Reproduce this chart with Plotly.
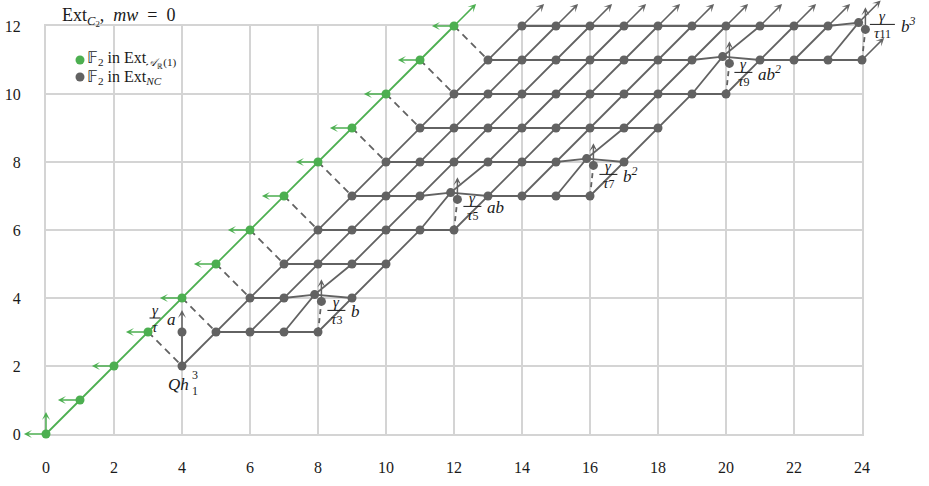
import plotly.graph_objects as go

# ---- data -------------------------------------------------------------
# F2 in Ext_{A_R(1)}: one class in each bidegree (s, s)
green_stems = list(range(0, 13))
green_filts = list(range(0, 13))

# Ext_NC lattice, row by row: filtration, first stem, last stem
nc_row_filts = [3, 4, 5, 6, 7, 8, 9, 10, 11, 12]
nc_row_first = [5, 6, 7, 8, 9, 10, 11, 12, 13, 14]
nc_row_last = [8, 9, 10, 12, 16, 17, 18, 20, 24, 24]

# Qh_1^3
qh_stem, qh_filt = 4, 2

# gamma / tau^k classes and the classes they sit above
gamma_stems = [4, 8, 12, 16, 20, 24]
gamma_filts = [3, 4, 7, 8, 11, 12]
gamma_base_filts = [2, 3, 6, 7, 10, 11]
gamma_tau_pow = ["", "3", "5", "7", "9", "11"]
gamma_suffix = ["a", "b", "ab", "b<sup>2</sup>", "ab<sup>2</sup>", "b<sup>3</sup>"]

# dashed links from green (n, n) to grey (n+1, n-1)
link_stems = list(range(3, 13))

x_ticks = list(range(0, 25, 2))
y_ticks = list(range(0, 13, 2))

# ---- style ------------------------------------------------------------
W, H = 929, 486
PX = 34.0                       # pixels per unit on both axes
X0_PX, Y0_PX = 46, 434          # pixel position of the origin
GREEN = "#4caf50"
GREY = "#626262"
GRID = "#d4d4d4"
TEXT = "#1a1a1a"
FONT = "Liberation Serif"
ARROW = 0.65                    # arrow length in axis units
SHIFT = 0.1                     # offset for two classes in one bidegree
MS = 9
NBSP = "\u00a0"

# label placement (pixels: fraction-bar centre relative to its class, +down)
frac_offsets = [(-27, -14), (15, 9), (15, 7), (15, 9), (14, 9), (17, -5)]

fig = go.Figure()

gamma_set = set(zip(gamma_stems, gamma_filts))


def lattice_pos(s, f):
    if (s, f) in gamma_set:
        return s - SHIFT, f + SHIFT
    return float(s), float(f)


# lattice points
points = [(qh_stem, qh_filt)]
for r, a, b in zip(nc_row_filts, nc_row_first, nc_row_last):
    points += [(s, r) for s in range(a, b + 1)]
point_set = set(points)


def gamma_pos(s, f):
    if (s, f) in point_set:
        return s + SHIFT, f - SHIFT
    return float(s), float(f)


arrows = []  # (x0, y0, x1, y1, colour)

# horizontal rows
hx, hy = [], []
for r, a, b in zip(nc_row_filts, nc_row_first, nc_row_last):
    for s in range(a, b + 1):
        x, y = lattice_pos(s, r)
        hx.append(x)
        hy.append(y)
    hx.append(None)
    hy.append(None)

# diagonals (h1 multiplication)
dx_, dy_ = [], []
diags = {}
for s, f in points:
    diags.setdefault(s - f, []).append((s, f))
for c in sorted(diags):
    pts = sorted(diags[c], key=lambda p: p[1])
    for s, f in pts:
        x, y = lattice_pos(s, f)
        dx_.append(x)
        dy_.append(y)
    dx_.append(None)
    dy_.append(None)
    s, f = pts[-1]
    x, y = lattice_pos(s, f)
    arrows.append((x, y, x + ARROW, y + ARROW, GREY))

# dashed links
lx, ly = [], []
for n in link_stems:
    x1, y1 = lattice_pos(n + 1, n - 1)
    lx += [n, x1, None]
    ly += [n, y1, None]

# gamma classes: solid/dashed stem from the base class, arrow upward
gsx, gsy = [], []
gdx, gdy = [], []
gpx, gpy = [], []
for s, f, fb in zip(gamma_stems, gamma_filts, gamma_base_filts):
    gx, gy = gamma_pos(s, f)
    bx, by = lattice_pos(s, fb)
    gpx.append(gx)
    gpy.append(gy)
    if (s, f) in point_set:
        gdx += [bx, gx, None]
        gdy += [by, gy, None]
    else:
        gsx += [bx, gx, None]
        gsy += [by, gy, None]
    arrows.append((gx, gy, gx, gy + ARROW, GREY))

# green arrows
for s, f in zip(green_stems, green_filts):
    arrows.append((s, f, s - ARROW, f, GREEN))
arrows.append((green_stems[0], green_filts[0], green_stems[0], green_filts[0] + ARROW, GREEN))
arrows.append((green_stems[-1], green_filts[-1], green_stems[-1] + ARROW, green_filts[-1] + ARROW, GREEN))

# the grid subplot carries no marks of its own
fig.add_trace(go.Scatter(x=[], y=[], xaxis="x", yaxis="y", hoverinfo="skip",
                         showlegend=False))

common = dict(xaxis="x2", yaxis="y2", hoverinfo="skip", showlegend=False)

fig.add_trace(go.Scatter(x=lx, y=ly, mode="lines",
                         line=dict(color=GREY, width=1.8, dash="7px,5px"), **common))
fig.add_trace(go.Scatter(x=gdx, y=gdy, mode="lines",
                         line=dict(color=GREY, width=1.8, dash="5px,4px"), **common))
fig.add_trace(go.Scatter(x=gsx, y=gsy, mode="lines",
                         line=dict(color=GREY, width=1.8), **common))
fig.add_trace(go.Scatter(x=hx, y=hy, mode="lines",
                         line=dict(color=GREY, width=1.8), **common))
fig.add_trace(go.Scatter(x=dx_, y=dy_, mode="lines",
                         line=dict(color=GREY, width=1.8), **common))
px_, py_ = zip(*[lattice_pos(s, f) for s, f in points])
fig.add_trace(go.Scatter(x=list(px_) + gpx, y=list(py_) + gpy, mode="markers",
                         marker=dict(color=GREY, size=MS), **common))
fig.add_trace(go.Scatter(x=green_stems, y=green_filts, mode="lines+markers",
                         line=dict(color=GREEN, width=1.8),
                         marker=dict(color=GREEN, size=MS), **common))

for x0, y0, x1, y1, col in arrows:
    fig.add_annotation(x=x1, y=y1, ax=x0, ay=y0, xref="x2", yref="y2",
                       axref="x2", ayref="y2", text="", showarrow=True,
                       arrowhead=3, arrowsize=0.9, arrowwidth=1.5,
                       arrowcolor=col, standoff=0, startstandoff=0)

# gamma / tau^k labels
for gx, gy, k, suf, (ox, oy) in zip(gpx, gpy, gamma_tau_pow, gamma_suffix, frac_offsets):
    barw = 11 + 7 * len(k)
    base = dict(x=gx, y=gy, xref="x2", yref="y2", showarrow=False,
                font=dict(family=FONT, size=15, color=TEXT))
    fig.add_annotation(text="<i>γ</i>", xanchor="center", yanchor="middle",
                       xshift=ox, yshift=-(oy - 8), **base)
    tau = "<i>τ</i>" + (f"<span style='font-size:12px'>{k}</span>" if k else "")
    fig.add_annotation(text=tau, xanchor="center", yanchor="middle",
                       xshift=ox, yshift=-(oy + 9), **base)
    fig.add_shape(type="line", xref="x2", yref="y2", xsizemode="pixel",
                  ysizemode="pixel", xanchor=gx, yanchor=gy,
                  x0=ox - barw / 2, x1=ox + barw / 2, y0=-oy, y1=-oy,
                  line=dict(color=TEXT, width=1))
    fig.add_annotation(x=gx, y=gy, xref="x2", yref="y2", showarrow=False,
                       text=f"<i>{suf}</i>", xanchor="left", yanchor="middle",
                       xshift=ox + barw / 2 + 4, yshift=-(oy + 1),
                       font=dict(family=FONT, size=17, color=TEXT))

# Qh_1^3 label
fig.add_annotation(x=qh_stem, y=qh_filt, xref="x2", yref="y2", showarrow=False,
                   text="<i>Qh</i>", xanchor="center", yanchor="middle",
                   xshift=-4, yshift=-18, font=dict(family=FONT, size=17, color=TEXT))
fig.add_annotation(x=qh_stem, y=qh_filt, xref="x2", yref="y2", showarrow=False,
                   text="3", xanchor="center", yanchor="middle",
                   xshift=13, yshift=-9, font=dict(family=FONT, size=12, color=TEXT))
fig.add_annotation(x=qh_stem, y=qh_filt, xref="x2", yref="y2", showarrow=False,
                   text="1", xanchor="center", yanchor="middle",
                   xshift=13, yshift=-25, font=dict(family=FONT, size=12, color=TEXT))

# title
fig.add_annotation(x=60 / W, y=1 - 17 / H, xref="paper", yref="paper",
                   showarrow=False, xanchor="left", yanchor="middle",
                   text=("Ext<sub><i>C</i><sub>2</sub></sub>," + NBSP * 2 + "<i>mw</i>"
                         + NBSP * 2 + "=" + NBSP * 2 + "0"),
                   font=dict(family=FONT, size=18, color=TEXT))

# legend
legend_items = [(GREEN, "𝔽<sub>2</sub> in Ext<sub><i>𝒜</i><sub>ℝ</sub>(1)</sub>"),
                (GREY, "𝔽<sub>2</sub> in Ext<sub><i>NC</i></sub>")]
for i, (col, txt) in enumerate(legend_items):
    cy = 60 + 17 * i
    fig.add_shape(type="circle", xref="paper", yref="paper",
                  x0=(80 - 4.5) / W, x1=(80 + 4.5) / W,
                  y0=1 - (cy + 4.5) / H, y1=1 - (cy - 4.5) / H,
                  fillcolor=col, line=dict(width=0))
    fig.add_annotation(x=85 / W, y=1 - cy / H, xref="paper", yref="paper",
                       showarrow=False, xanchor="left", yanchor="middle",
                       text=txt, font=dict(family=FONT, size=16, color=TEXT))

axis_common = dict(showgrid=True, gridcolor=GRID, gridwidth=2, zeroline=False,
                   showline=True, linecolor=GRID, linewidth=2, mirror=True,
                   ticks="outside", tickcolor="rgba(0,0,0,0)",
                   tickfont=dict(family=FONT, size=16, color=TEXT),
                   fixedrange=True, automargin=False)

fig.update_layout(
    width=W, height=H,
    margin=dict(l=0, r=0, t=0, b=0, pad=0, autoexpand=False),
    paper_bgcolor="white", plot_bgcolor="rgba(0,0,0,0)",
    showlegend=False,
    xaxis=dict(domain=[X0_PX / W, (X0_PX + 24 * PX) / W], range=[0, 24],
               anchor="y", tickvals=x_ticks, ticklen=18, **axis_common),
    yaxis=dict(domain=[(H - Y0_PX) / H, (H - Y0_PX + 12 * PX) / H], range=[0, 12],
               anchor="x", tickvals=y_ticks, ticklen=20, **axis_common),
    xaxis2=dict(domain=[0, 1], range=[-X0_PX / PX, (W - X0_PX) / PX],
                anchor="y2", visible=False, fixedrange=True, automargin=False),
    yaxis2=dict(domain=[0, 1], range=[-(H - Y0_PX) / PX, Y0_PX / PX],
                anchor="x2", visible=False, fixedrange=True, automargin=False),
)

fig.write_html("out.html")
